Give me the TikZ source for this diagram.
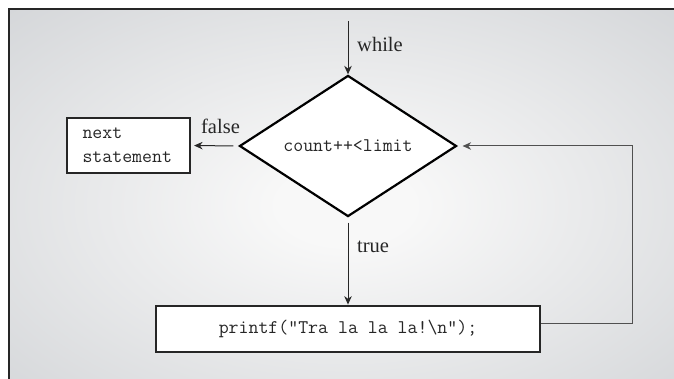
\documentclass[tikz,border=0pt]{standalone}
\usepackage{fontspec}
\setmainfont{Liberation Serif}
\usetikzlibrary{shapes.geometric,arrows.meta}
\definecolor{bgin}{RGB}{248,248,248}
\definecolor{bgout}{RGB}{196,199,203}
\definecolor{ink}{RGB}{38,38,38}
\definecolor{loopc}{RGB}{80,80,80}
\pgfdeclareradialshading{bgshade}{\pgfpoint{0bp}{0bp}}{color(0bp)=(bgin);color(5bp)=(bgin);color(50bp)=(bgout)}
\begin{document}
\begin{tikzpicture}[x=1pt,y=-1pt,
  box/.style={draw=ink, line width=2.2pt, fill=white, inner sep=0pt},
  arr/.style={draw=ink, line width=1pt, -{Stealth[length=8.5pt,width=7.5pt]}},
  looparr/.style={draw=loopc, line width=1pt, -{Stealth[length=8.5pt,width=7.5pt]}},
  lbl/.style={font=\fontsize{20.5}{24}\selectfont, text=ink, inner sep=0pt},
  code/.style={font=\ttfamily\fontsize{19.3}{24}\selectfont, text=ink}]
\useasboundingbox (0,0) rectangle (674,379);
\clip (0,0) rectangle (674,379);
\fill[white] (0,0) rectangle (674,379);
\shade[shading=bgshade] (9,9) rectangle (682,402);
\draw[ink, line width=2.5pt] (9,402) -- (9,9) -- (682,9);

\node[diamond, draw=black, line width=2.2pt, fill=white, minimum width=217pt, minimum height=113pt, inner sep=0pt, code] (cond) at (348,146) {count++<limit};
\node[box, minimum width=123pt, minimum height=55pt, code, align=left, text width=92pt] (next) at (128.5,145.5) {next\\statement};
\node[box, minimum width=384pt, minimum height=46pt, code] (pr) at (348,328.7) {printf("Tra la la la!\textbackslash n");};

\coordinate (wtop) at (348,21);
\coordinate (lp) at (632,323);

\draw[arr] (wtop) -- (cond.north);
\draw[arr, shorten <=5pt, shorten >=3pt] (cond.west) -- (next.east);
\draw[arr, shorten <=5pt] (cond.south) -- (pr.north);
\draw[looparr, shorten >=5pt] (pr.east |- lp) -- (lp) -- (lp |- cond.east) -- (cond.east);

\node[lbl, anchor=base west] (wl) at (357,52) {while};
\node[lbl, anchor=base] (fl) at (220.5,134) {false};
\node[lbl, anchor=base west] (tl) at (357,252) {true};
\end{tikzpicture}
\end{document}
